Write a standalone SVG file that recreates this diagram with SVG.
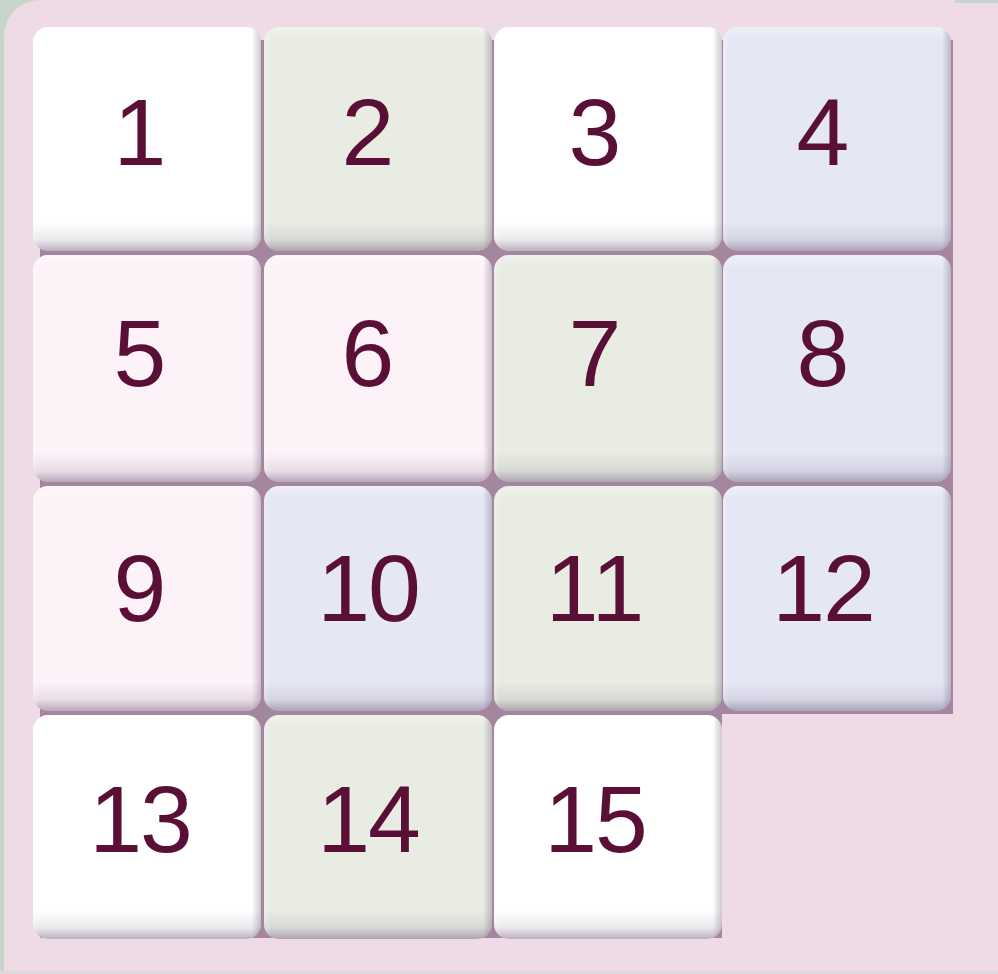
<svg xmlns="http://www.w3.org/2000/svg" width="998" height="974" viewBox="0 0 998 974">
  <defs>
    <linearGradient id="shadeV" x1="0" y1="0" x2="0" y2="1">
      <stop offset="0" stop-color="#ffffff" stop-opacity="0.35"/>
      <stop offset="0.06" stop-color="#ffffff" stop-opacity="0"/>
      <stop offset="0.87" stop-color="#5a4468" stop-opacity="0"/>
      <stop offset="0.95" stop-color="#5a4468" stop-opacity="0.12"/>
      <stop offset="1" stop-color="#5a4468" stop-opacity="0.42"/>
    </linearGradient>
    <linearGradient id="shadeH" x1="0" y1="0" x2="1" y2="0">
      <stop offset="0" stop-color="#ffffff" stop-opacity="0.25"/>
      <stop offset="0.03" stop-color="#ffffff" stop-opacity="0"/>
      <stop offset="0.96" stop-color="#5a4468" stop-opacity="0"/>
      <stop offset="1" stop-color="#5a4468" stop-opacity="0.3"/>
    </linearGradient>
  </defs>
  <style>
    .w { fill: #ffffff; }
    .g { fill: #e8ece3; }
    .l { fill: #e5e7f4; }
    .p { fill: #fdf2f8; }
    .sv { fill: url(#shadeV); }
    .sh { fill: url(#shadeH); }
    .num { font-family: "Liberation Sans", Arial, sans-serif; font-size: 95px; fill: #5a1036; text-anchor: middle; }
    .two { letter-spacing: -2px; }
  </style>

  <!-- background -->
  <rect x="0" y="0" width="998" height="974" fill="#c6d4cc"/>
  <path d="M4 36 A36 36 0 0 1 40 0 H998 V971 H4 Z" fill="#efdbe6"/>
  <rect x="955" y="0" width="43" height="3" fill="#c6d4cc"/>
  <rect x="0" y="971" width="998" height="3" fill="#dcdcdc"/>

  <!-- backing of the grid -->
  <path id="board" d="M40 40 H953 V714 H722 V938 H40 Z" fill="#a4869e"/>

  <g id="tile-1">
    <rect class="w" x="33" y="27" width="228" height="224" rx="15"/>
    <rect class="sv" x="33" y="27" width="228" height="224" rx="15"/>
    <rect class="sh" x="33" y="27" width="228" height="224" rx="15"/>
    <text class="num" x="140" y="165">1</text>
  </g>
  <g id="tile-2">
    <rect class="g" x="264" y="27" width="228" height="224" rx="15"/>
    <rect class="sv" x="264" y="27" width="228" height="224" rx="15"/>
    <rect class="sh" x="264" y="27" width="228" height="224" rx="15"/>
    <text class="num" x="368" y="165">2</text>
  </g>
  <g id="tile-3">
    <rect class="w" x="494" y="27" width="228" height="224" rx="15"/>
    <rect class="sv" x="494" y="27" width="228" height="224" rx="15"/>
    <rect class="sh" x="494" y="27" width="228" height="224" rx="15"/>
    <text class="num" x="595" y="165">3</text>
  </g>
  <g id="tile-4">
    <rect class="l" x="723" y="27" width="228" height="224" rx="15"/>
    <rect class="sv" x="723" y="27" width="228" height="224" rx="15"/>
    <rect class="sh" x="723" y="27" width="228" height="224" rx="15"/>
    <text class="num" x="823" y="165">4</text>
  </g>

  <g id="tile-5">
    <rect class="p" x="33" y="255" width="228" height="227" rx="15"/>
    <rect class="sv" x="33" y="255" width="228" height="227" rx="15"/>
    <rect class="sh" x="33" y="255" width="228" height="227" rx="15"/>
    <text class="num" x="140" y="386">5</text>
  </g>
  <g id="tile-6">
    <rect class="p" x="264" y="255" width="228" height="227" rx="15"/>
    <rect class="sv" x="264" y="255" width="228" height="227" rx="15"/>
    <rect class="sh" x="264" y="255" width="228" height="227" rx="15"/>
    <text class="num" x="368" y="386">6</text>
  </g>
  <g id="tile-7">
    <rect class="g" x="494" y="255" width="228" height="227" rx="15"/>
    <rect class="sv" x="494" y="255" width="228" height="227" rx="15"/>
    <rect class="sh" x="494" y="255" width="228" height="227" rx="15"/>
    <text class="num" x="595" y="386">7</text>
  </g>
  <g id="tile-8">
    <rect class="l" x="723" y="255" width="228" height="227" rx="15"/>
    <rect class="sv" x="723" y="255" width="228" height="227" rx="15"/>
    <rect class="sh" x="723" y="255" width="228" height="227" rx="15"/>
    <text class="num" x="823" y="386">8</text>
  </g>

  <g id="tile-9">
    <rect class="p" x="33" y="486" width="228" height="225" rx="15"/>
    <rect class="sv" x="33" y="486" width="228" height="225" rx="15"/>
    <rect class="sh" x="33" y="486" width="228" height="225" rx="15"/>
    <text class="num" x="140" y="621">9</text>
  </g>
  <g id="tile-10">
    <rect class="l" x="264" y="486" width="228" height="225" rx="15"/>
    <rect class="sv" x="264" y="486" width="228" height="225" rx="15"/>
    <rect class="sh" x="264" y="486" width="228" height="225" rx="15"/>
    <text class="num two" x="368" y="621">10</text>
  </g>
  <g id="tile-11">
    <rect class="g" x="494" y="486" width="228" height="225" rx="15"/>
    <rect class="sv" x="494" y="486" width="228" height="225" rx="15"/>
    <rect class="sh" x="494" y="486" width="228" height="225" rx="15"/>
    <text class="num" x="595" y="621">11</text>
  </g>
  <g id="tile-12">
    <rect class="l" x="723" y="486" width="228" height="225" rx="15"/>
    <rect class="sv" x="723" y="486" width="228" height="225" rx="15"/>
    <rect class="sh" x="723" y="486" width="228" height="225" rx="15"/>
    <text class="num two" x="823" y="621">12</text>
  </g>

  <g id="tile-13">
    <rect class="w" x="33" y="715" width="228" height="224" rx="15"/>
    <rect class="sv" x="33" y="715" width="228" height="224" rx="15"/>
    <rect class="sh" x="33" y="715" width="228" height="224" rx="15"/>
    <text class="num two" x="140" y="852">13</text>
  </g>
  <g id="tile-14">
    <rect class="g" x="264" y="715" width="228" height="224" rx="15"/>
    <rect class="sv" x="264" y="715" width="228" height="224" rx="15"/>
    <rect class="sh" x="264" y="715" width="228" height="224" rx="15"/>
    <text class="num two" x="368" y="852">14</text>
  </g>
  <g id="tile-15">
    <rect class="w" x="494" y="715" width="228" height="224" rx="15"/>
    <rect class="sv" x="494" y="715" width="228" height="224" rx="15"/>
    <rect class="sh" x="494" y="715" width="228" height="224" rx="15"/>
    <text class="num two" x="595" y="852">15</text>
  </g>
</svg>
